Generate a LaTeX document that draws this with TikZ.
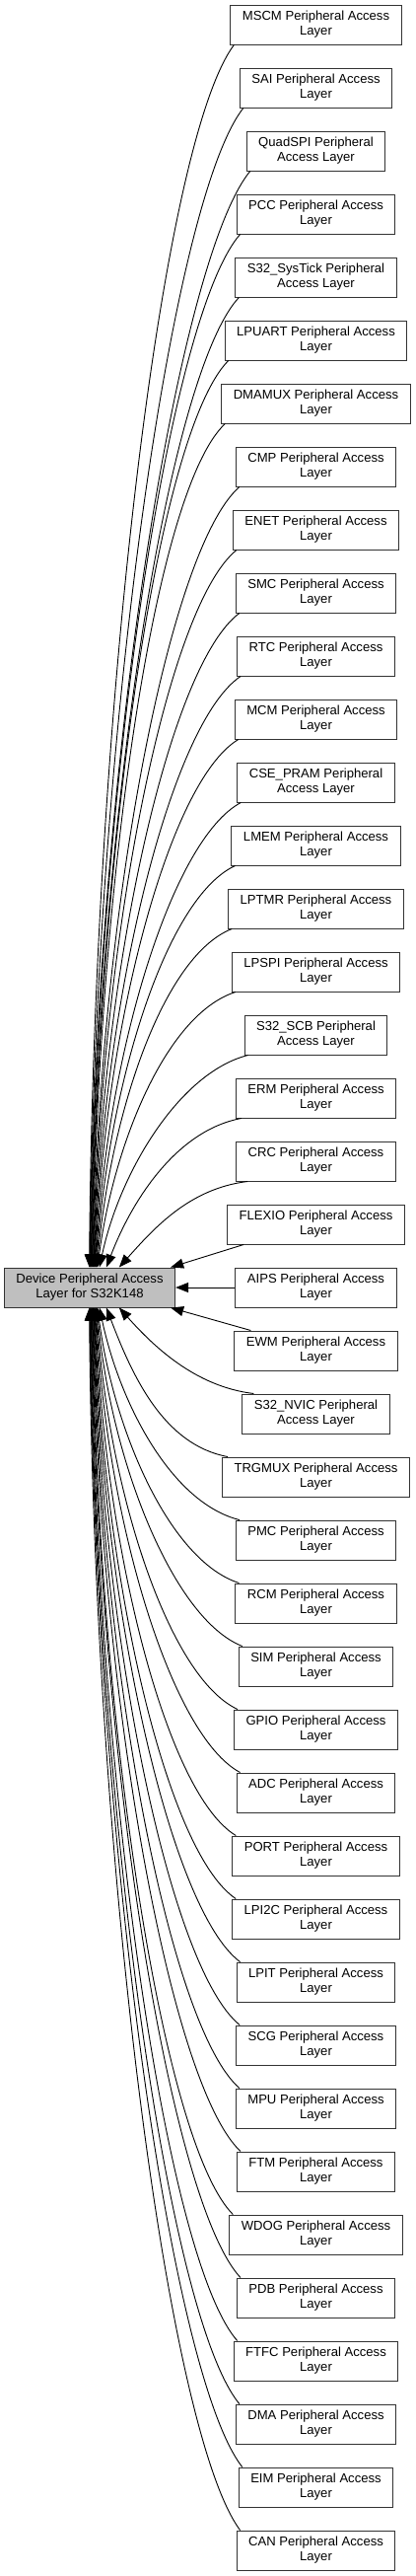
\documentclass[tikz,border=0pt]{standalone}
\usepackage{fontspec}
\setmainfont{Liberation Sans}
\usetikzlibrary{arrows.meta,calc}

\tikzset{
  layerbox/.style={draw=black!80, line width=1pt, fill=white, align=center,
    inner xsep=12pt, inner ysep=0pt, minimum height=40pt,
    font=\fontsize{13.1}{15}\selectfont},
  mainbox/.style={layerbox, fill=black!25, minimum width=172pt},
  edge/.style={draw=black, line width=0.9pt, -{Triangle[length=13pt,width=10pt]}}
}

\begin{document}
\begin{tikzpicture}[x=1pt, y=-1pt]
    \useasboundingbox (0,0) rectangle (421,2611);

    % Group of this page
    \node[mainbox] (main) at (91,1305) {Device Peripheral Access\\Layer for S32K148};

    % Peripheral access layers, one column
    \foreach \nm/\txt [count=\i] in {
        mscm/MSCM Peripheral Access\\Layer,
        sai/SAI Peripheral Access\\Layer,
        quadspi/QuadSPI Peripheral\\Access Layer,
        pcc/PCC Peripheral Access\\Layer,
        systick/S32\_SysTick Peripheral\\Access Layer,
        lpuart/LPUART Peripheral Access\\Layer,
        dmamux/DMAMUX Peripheral Access\\Layer,
        cmp/CMP Peripheral Access\\Layer,
        enet/ENET Peripheral Access\\Layer,
        smc/SMC Peripheral Access\\Layer,
        rtc/RTC Peripheral Access\\Layer,
        mcm/MCM Peripheral Access\\Layer,
        csepram/CSE\_PRAM Peripheral\\Access Layer,
        lmem/LMEM Peripheral Access\\Layer,
        lptmr/LPTMR Peripheral Access\\Layer,
        lpspi/LPSPI Peripheral Access\\Layer,
        scb/S32\_SCB Peripheral\\Access Layer,
        erm/ERM Peripheral Access\\Layer,
        crc/CRC Peripheral Access\\Layer,
        flexio/FLEXIO Peripheral Access\\Layer,
        aips/AIPS Peripheral Access\\Layer,
        ewm/EWM Peripheral Access\\Layer,
        nvic/S32\_NVIC Peripheral\\Access Layer,
        trgmux/TRGMUX Peripheral Access\\Layer,
        pmc/PMC Peripheral Access\\Layer,
        rcm/RCM Peripheral Access\\Layer,
        sim/SIM Peripheral Access\\Layer,
        gpio/GPIO Peripheral Access\\Layer,
        adc/ADC Peripheral Access\\Layer,
        port/PORT Peripheral Access\\Layer,
        lpitwoc/LPI2C Peripheral Access\\Layer,
        lpit/LPIT Peripheral Access\\Layer,
        scg/SCG Peripheral Access\\Layer,
        mpu/MPU Peripheral Access\\Layer,
        ftm/FTM Peripheral Access\\Layer,
        wdog/WDOG Peripheral Access\\Layer,
        pdb/PDB Peripheral Access\\Layer,
        ftfc/FTFC Peripheral Access\\Layer,
        dma/DMA Peripheral Access\\Layer,
        eim/EIM Peripheral Access\\Layer,
        can/CAN Peripheral Access\\Layer}
        \node[layerbox] (\nm) at (320.5,{25+64*(\i-1)}) {\txt};

    % Curved edges above and below the group
    \foreach \nm [count=\i] in {mscm,sai,quadspi,pcc,systick,lpuart,dmamux,cmp,enet,smc,
        rtc,mcm,csepram,lmem,lptmr,lpspi,scb,erm,crc,flexio,aips,ewm,nvic,trgmux,pmc,
        rcm,sim,gpio,adc,port,lpitwoc,lpit,scg,mpu,ftm,wdog,pdb,ftfc,dma,eim,can} {
        \pgfmathtruncatemacro\d{abs(\i-21)}
        \ifnum\d>1
            \pgfmathsetmacro\H{64*\d-40}
            \pgfmathsetmacro\xe{\d==2 ? 122 : (\d==3 ? 109 : (\d==4 ? 102 : 100-(\d-5)*0.55))}
            \pgfmathsetmacro\dx{240-\xe}
            \pgfmathsetmacro\sh{\d==2 ? 12 : (\d==3 ? 6 : 4)}
            \pgfmathsetmacro\k{0.6/\d}
            \ifnum\i<21
                \draw[edge] ($(\nm.south west)+(\sh,0)$)
                    .. controls +({-0.5*\dx},{0.08*\H}) and +({\k*\dx},{-0.45*\H})
                    .. ($(main.north west)+(\xe-5,0)$);
            \else
                \draw[edge] ($(\nm.north west)+(\sh,0)$)
                    .. controls +({-0.5*\dx},{-0.08*\H}) and +({\k*\dx},{0.45*\H})
                    .. ($(main.south west)+(\xe-5,0)$);
            \fi
        \fi
    }

    % Nearest neighbours
    \draw[edge] ($(flexio.south west)+(17,0)$) -- ($(main.north east)+(-5,0)$);
    \draw[edge] (aips.west) -- (main.east);
    \draw[edge] ($(ewm.north west)+(17,0)$) -- ($(main.south east)+(-5,0)$);
\end{tikzpicture}
\end{document}
